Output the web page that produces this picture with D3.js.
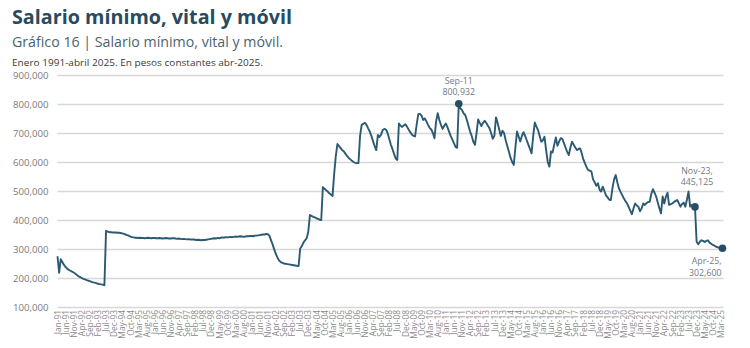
<!DOCTYPE html>
<html><head><meta charset="utf-8">
<script src="https://cdn.jsdelivr.net/npm/d3@7"></script>
<style>body{margin:0;background:#fff;} svg{display:block;}</style>
</head><body><svg id="c" width="750" height="348"></svg>
<script>
// Monthly values, Jan-1991 .. Apr-2025, in thousands of pesos (constant Apr-2025)
const valuesThousands = [
 275,218,265,255,245,238,232,228,225,222,219,215,
 210,206,203,200,197,195,193,191,189,187,185,184,
 182,180,179,178,177,175,363,360,358,358,357,357,
 357,356,356,355,354,352,350,348,346,343,341,340,
 339,339,338,339,338,338,337,338,339,338,337,338,
 338,337,337,338,337,336,337,338,337,336,336,337,
 337,336,335,336,335,334,335,334,333,334,333,333,
 333,332,331,332,331,330,331,331,332,333,334,335,
 336,337,336,338,337,339,340,339,341,340,341,342,
 341,342,343,342,343,344,343,342,343,344,344,345,
 345,344,346,346,347,348,349,350,350,352,351,345,
 330,315,298,282,270,260,255,252,250,249,248,247,
 246,245,244,243,242,241,302,310,322,330,337,360,
 417,414,411,409,406,404,401,400,513,508,503,498,
 492,488,483,560,620,662,655,648,641,636,628,620,
 614,609,604,600,597,596,596,690,728,732,735,728,
 716,705,690,672,655,641,693,686,695,710,714,712,
 700,680,660,645,628,612,607,733,725,721,726,730,
 722,712,703,695,690,688,730,765,766,760,745,750,
 740,728,718,712,700,682,740,768,745,728,714,725,
 733,720,705,690,678,665,652,649,800.932,785,779,768,
 762,745,725,705,690,670,659,700,747,735,724,735,
 742,735,725,716,700,680,690,754,735,712,690,708,
 700,675,655,635,615,600,590,650,705,688,671,690,
 703,690,675,660,645,630,690,736,722,710,690,670,
 675,687,640,600,584,636,633,660,685,656,670,682,
 680,665,650,635,624,650,670,660,650,641,645,647,
 630,609,595,582,572,570,567,540,530,518,527,505,
 498,515,500,485,478,470,469,510,540,555,530,509,
 497,486,475,465,457,445,432,420,440,457,450,446,
 430,440,457,452,458,462,463,490,506,494,481,460,
 440,423,481,457,480,494,452,455,457,462,466,469,
 458,446,455,460,446,470,498,446,452,448,445.125,325,
 316,325,330,328,324,328,330,322,318,314,312,308,
 306,304,303,302.6
];

// x tick labels, one every 5 months starting Jan-91
const tickLabels = [
 "Jan-91","Jun-91","Nov-91","Apr-92","Sep-92","Feb-93","Jul-93","Dec-93","May-94","Oct-94",
 "Mar-95","Aug-95","Jan-96","Jun-96","Nov-96","Apr-97","Sep-97","Feb-98","Jul-98","Dec-98",
 "May-99","Oct-99","Mar-00","Aug-00","Jan-01","Jun-01","Nov-01","Apr-02","Sep-02","Feb-03",
 "Jul-03","Dec-03","May-04","Oct-04","Mar-05","Aug-05","Jan-06","Jun-06","Nov-06","Apr-07",
 "Sep-07","Feb-08","Jul-08","Dec-08","May-09","Oct-09","Mar-10","Aug-10","Jan-11","Jun-11",
 "Nov-11","Apr-12","Sep-12","Feb-13","Jul-13","Dec-13","May-14","Oct-14","Mar-15","Aug-15",
 "Jan-16","Jun-16","Nov-16","Apr-17","Sep-17","Feb-18","Jul-18","Dec-18","May-19","Oct-19",
 "Mar-20","Aug-20","Jan-21","Jun-21","Nov-21","Apr-22","Sep-22","Feb-23","Jul-23","Dec-23",
 "May-24","Oct-24","Mar-25"
];
const tickStep = 5;

const yTickValues = [100000,200000,300000,400000,500000,600000,700000,800000,900000];

const highlightNames = ["Sep-11","Nov-23","Apr-25"];
const highlightIndex = [248, 394, 411];

const titleText = "Salario mínimo, vital y móvil";
const subtitleText = "Gráfico 16 | Salario mínimo, vital y móvil.";
const noteText = "Enero 1991-abril 2025. En pesos constantes abr-2025.";

// ---------------------------------------------------------------
const svg = d3.select("#c");
const W = 750, H = 348;
const m = {left: 57.5, right: 27.5, top: 75, bottom: 41};

const data = valuesThousands.map((v, i) => ({i, v: v * 1000}));

const x = d3.scaleLinear().domain([0, data.length - 1]).range([m.left, W - m.right]);
const y = d3.scaleLinear().domain([100000, 900000]).range([H - m.bottom, m.top]);

svg.append("rect").attr("width", W).attr("height", H).attr("fill", "#ffffff");

// titles
svg.append("text").attr("x", 12).attr("y", 23.5).text(titleText)
  .attr("font-family", "'Open Sans', sans-serif").attr("font-weight", 700)
  .attr("font-size", 19.8).attr("fill", "#284b5f")
  .attr("textLength", 280).attr("lengthAdjust", "spacingAndGlyphs");
svg.append("text").attr("x", 12).attr("y", 46.5).text(subtitleText)
  .attr("font-family", "'Open Sans', sans-serif").attr("font-size", 14).attr("fill", "#4b6270")
  .attr("textLength", 271).attr("lengthAdjust", "spacingAndGlyphs");
svg.append("text").attr("x", 12).attr("y", 65.5).text(noteText)
  .attr("font-family", "'Open Sans', sans-serif").attr("font-size", 9).attr("fill", "#3a3a3a")
  .attr("textLength", 251).attr("lengthAdjust", "spacingAndGlyphs");

// y axis with gridlines
const yAxis = d3.axisLeft(y).tickValues(yTickValues).tickFormat(d3.format(","))
  .tickSize(-(W - m.right - m.left + 1)).tickPadding(9);
const gy = svg.append("g").attr("transform", `translate(${m.left},0)`).call(yAxis);
gy.select(".domain").remove();
gy.selectAll(".tick line").attr("stroke", "#d7d7d7").attr("stroke-width", 1.4);
gy.selectAll(".tick text").attr("font-family", "'Open Sans', sans-serif")
  .attr("font-size", 9.6).attr("fill", "#7a7a7a");

// x axis labels
const xTickIdx = tickLabels.map((_, k) => k * tickStep);
const xAxis = d3.axisBottom(x).tickValues(xTickIdx)
  .tickFormat((d, k) => tickLabels[k]).tickSize(0).tickPadding(4);
const gx = svg.append("g").attr("transform", `translate(0,${H - m.bottom})`).call(xAxis);
gx.select(".domain").remove();
gx.selectAll(".tick text")
  .attr("font-family", "'Open Sans', sans-serif").attr("font-size", 8.4).attr("fill", "#8a8a8a")
  .attr("text-anchor", "end").attr("dy", "0.32em")
  .attr("transform", "translate(0,3) rotate(-90)").attr("x", 0).attr("y", 0);

// line
const line = d3.line().x(d => x(d.i)).y(d => y(d.v));
svg.append("path").datum(data).attr("d", line)
  .attr("fill", "none").attr("stroke", "#2c5a72").attr("stroke-width", 1.9)
  .attr("stroke-linejoin", "round");

// highlights
const fmt = d3.format(",");
highlightIndex.forEach((idx, k) => {
  const d = data[idx];
  svg.append("circle").attr("cx", x(d.i)).attr("cy", y(d.v)).attr("r", 3.8).attr("fill", "#264f66");
});
const annFont = {family: "'Open Sans', sans-serif", size: 8.8, fill: "#6f7b84"};
function ann(lines, ax, ay, anchor) {
  const t = svg.append("text").attr("x", ax).attr("y", ay)
    .attr("font-family", annFont.family).attr("font-size", annFont.size)
    .attr("fill", annFont.fill).attr("text-anchor", anchor);
  lines.forEach((s, j) => t.append("tspan").attr("x", ax).attr("dy", j ? 11.5 : 0).text(s));
}
// Sep-11 above the point
{ const d = data[highlightIndex[0]];
  ann([highlightNames[0], fmt(Math.round(d.v))], x(d.i), y(d.v) - 20, "middle"); }
// Nov-23 above
{ const d = data[highlightIndex[1]];
  ann([highlightNames[1] + ",", fmt(Math.round(d.v))], x(d.i) + 2, y(d.v) - 33, "middle"); }
// Apr-25 below
{ const d = data[highlightIndex[2]];
  ann([highlightNames[2] + ",", fmt(Math.round(d.v))], x(d.i) - 1, y(d.v) + 16, "end"); }
</script>
</body></html>
